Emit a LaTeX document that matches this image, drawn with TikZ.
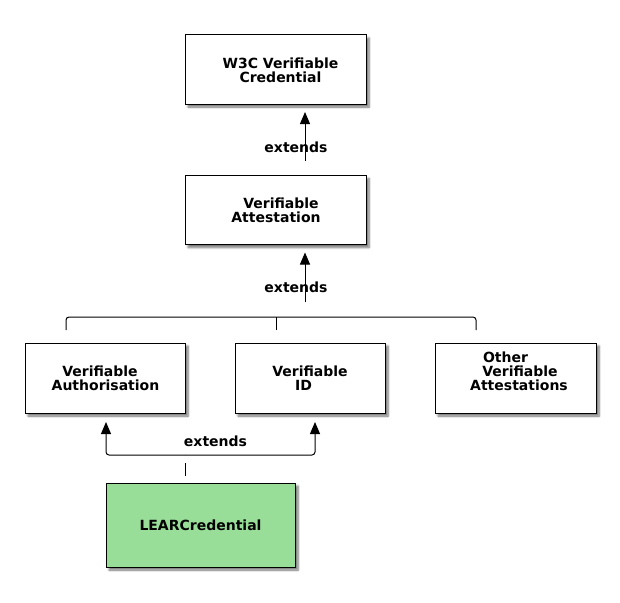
\documentclass[tikz,border=0pt]{standalone}
\usepackage{fontspec}
\setmainfont{DejaVu Sans}
\usetikzlibrary{shadows.blur,arrows.meta}
\definecolor{leargreen}{RGB}{152,221,152}
\begin{document}
\begin{tikzpicture}[x=1pt,y=-1pt,
  box/.style={draw=black, line width=1pt, fill=white, inner sep=0pt,
    blur shadow={shadow xshift=3pt, shadow yshift=-3pt, shadow blur steps=6, shadow opacity=55}},
  txt/.style={font=\fontsize{14}{14}\selectfont\bfseries, inner sep=0pt},
  conn/.style={line width=1pt},
  arr/.style={conn, -{Triangle[length=12pt,width=10pt]}}]
\useasboundingbox (0,0) rectangle (620,602);
% boxes
\node[box, minimum width=181pt, minimum height=69pt] (w3c) at (275.5,69.5) {};
\node[box, minimum width=181pt, minimum height=69pt] (va) at (275.5,210) {};
\node[box, minimum width=160pt, minimum height=70pt] (auth) at (105,378) {};
\node[box, minimum width=150pt, minimum height=70pt] (vid) at (310,378) {};
\node[box, minimum width=161pt, minimum height=70pt] (other) at (515.5,378) {};
\node[box, fill=leargreen, minimum width=189pt, minimum height=84pt] (lear) at (200.5,525) {};
% texts
\node[txt] (w3ct1) at (280.5,63) {W3C Verifiable};
\node[txt] (w3ct2) at (280.5,77) {Credential};
\node[txt] (vat1) at (281,203) {Verifiable};
\node[txt] (vat2) at (276,217) {Attestation};
\node[txt] (autht1) at (100,371.5) {Verifiable};
\node[txt] (autht2) at (105.5,385) {Authorisation};
\node[txt] (vidt1) at (310,371.5) {Verifiable};
\node[txt] (vidt2) at (303.5,385) {ID};
\node[txt] (othert1) at (505.5,357) {Other};
\node[txt] (othert2) at (520,371) {Verifiable};
\node[txt] (othert3) at (519,385) {Attestations};
\node[txt] (leart) at (200.5,525) {LEARCredential};
% labels
\node[txt] (ext1) at (296,147) {extends};
\node[txt] (ext2) at (296,287) {extends};
\node[txt] (ext3) at (215.5,441) {extends};
% connectors
\coordinate (a1) at (305,161);
\draw[arr, shorten >=7.5pt] (a1) -- (a1 |- w3c.south);
\coordinate (a2) at (305,302);
\draw[arr, shorten >=7.5pt] (a2) -- (a2 |- va.south);
\coordinate (bl) at (66,330);
\coordinate (bm) at (276,330);
\coordinate (br) at (476,330);
\draw[conn, rounded corners=3pt] (bl) -- (66,317) -- (476,317) -- (br);
\draw[conn] (bm) -- (276,317);
\coordinate (lt) at (185,463);
\draw[conn] (lt) -- (185,476);
\coordinate (ha) at (106,455);
\coordinate (hb) at (315,455);
\draw[arr, rounded corners=3pt, shorten >=8.5pt] (185,455) -- (ha) -- (ha |- auth.south);
\draw[arr, rounded corners=3pt, shorten >=8.5pt] (185,455) -- (hb) -- (hb |- vid.south);
\end{tikzpicture}
\end{document}
